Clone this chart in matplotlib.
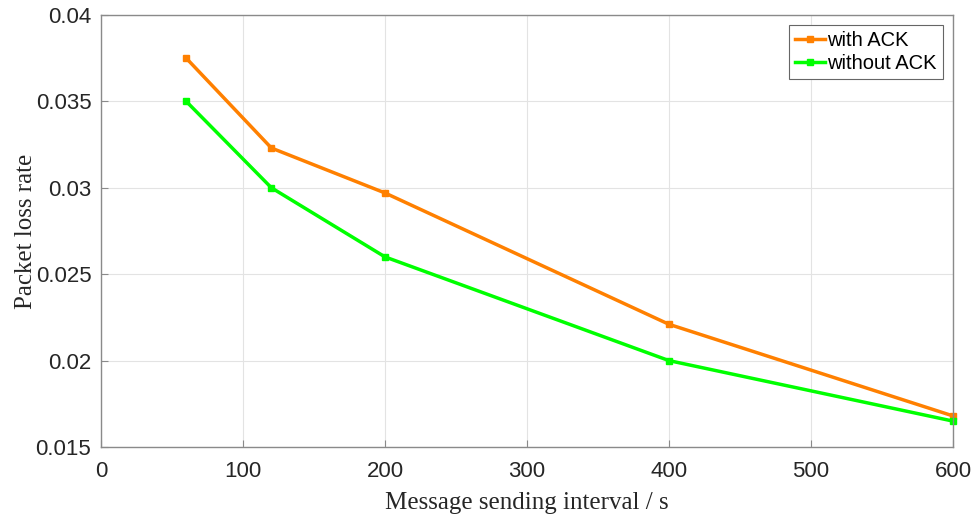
import matplotlib
matplotlib.use("Agg")
import matplotlib.pyplot as plt

intervals = [60, 120, 200, 400, 600]
with_ack = [0.0375, 0.0323, 0.0297, 0.0221, 0.0168]
without_ack = [0.0350, 0.0300, 0.0260, 0.0200, 0.0165]
x_ticks = [0, 100, 200, 300, 400, 500, 600]
y_ticks = [0.015, 0.02, 0.025, 0.03, 0.035, 0.04]
y_labels = ["0.015", "0.02", "0.025", "0.03", "0.035", "0.04"]


def main():
    fig = plt.figure(figsize=(9.74, 5.15), dpi=100)
    ax = fig.add_axes([0.1037, 0.132, 0.8747, 0.839])

    ax.plot(intervals, with_ack, color="#ff8000", lw=2.5, marker="s",
            ms=4.5, mfc="#ff8000", label="with ACK", clip_on=False)
    ax.plot(intervals, without_ack, color="#00ff00", lw=2.5, marker="s",
            ms=4.5, mfc="#00ff00", label="without ACK", clip_on=False)

    ax.set_xlim(0, 600)
    ax.set_ylim(0.015, 0.04)
    ax.set_xticks(x_ticks)
    ax.set_yticks(y_ticks)
    ax.set_yticklabels(y_labels)
    ax.grid(True, color="#e3e3e3", lw=0.8)
    ax.set_axisbelow(True)
    for s in ax.spines.values():
        s.set_color("#8a8a8a")
        s.set_linewidth(1.0)
    ax.tick_params(direction="in", length=5, color="#8a8a8a",
                   labelsize=16, labelcolor="#262626")
    ax.tick_params(axis="x", pad=10)
    ax.tick_params(axis="y", pad=7)
    for lab in ax.get_xticklabels() + ax.get_yticklabels():
        lab.set_family("Liberation Sans")

    ax.set_xlabel("Message sending interval / s", family="Liberation Serif",
                  fontsize=18, labelpad=7, color="#262626")
    ax.set_ylabel("Packet loss rate", family="Liberation Serif",
                  fontsize=18, labelpad=-1, color="#262626")

    leg = ax.legend(loc="upper right", prop={"family": "Liberation Sans", "size": 14.5},
                    fancybox=False, framealpha=1, edgecolor="#666666",
                    handlelength=1.5, handletextpad=0.1, borderpad=0.3,
                    labelspacing=0.2, borderaxespad=0.5)
    leg.get_frame().set_linewidth(0.8)

    fig.savefig("out.png", dpi=100)


if __name__ == "__main__":
    main()
